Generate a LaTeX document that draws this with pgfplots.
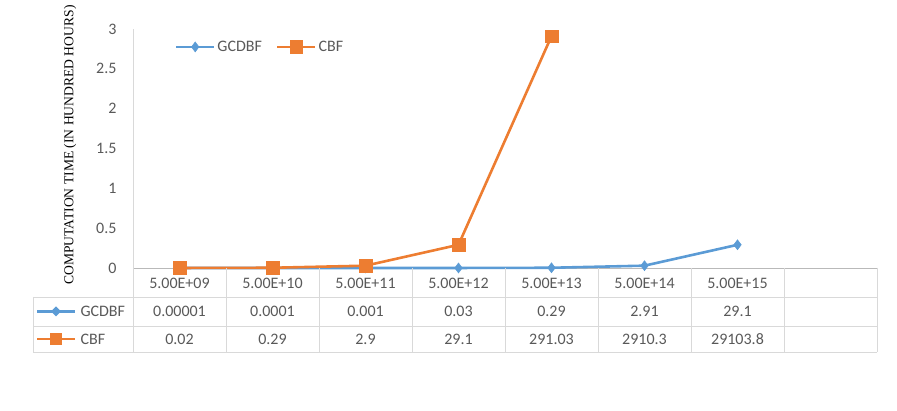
\documentclass[border=0pt]{standalone}
\usepackage{pgfplots}
\pgfplotsset{compat=1.18}
\usepackage{fontspec}
\setmainfont{Carlito}
\newfontfamily\serifff{Liberation Serif}
\definecolor{cblue}{HTML}{5B9BD5}
\definecolor{corange}{HTML}{ED7D31}
\definecolor{txt}{HTML}{595959}
\definecolor{gridc}{HTML}{D9D9D9}
\begin{document}
\begin{tikzpicture}[x=1pt,y=1pt]
\path[use as bounding box] (0,0) rectangle (897,411);
\begin{axis}[
  at={(133pt,143pt)}, anchor=south west,
  scale only axis, width=744pt, height=239pt,
  xmin=-0.5, xmax=7.5, ymin=0, ymax=3,
  clip=false,
  axis x line*=bottom, axis y line*=left,
  x axis line style={draw=gray!55, line width=0.8pt, -},
  y axis line style={draw=gridc, line width=0.8pt, -},
  xtick={0,...,6},
  xticklabels={5.00E+09,5.00E+10,5.00E+11,5.00E+12,5.00E+13,5.00E+14,5.00E+15},
  ytick={0,0.5,...,3},
  major tick length=0pt,
  /pgf/number format/assume math mode=true,
  tick label style={font=\fontsize{16}{18}\selectfont, text=txt},
  xticklabel style={anchor=center, yshift=-15pt},
  yticklabel style={anchor=east, xshift=-13pt},
  legend style={at={(0.052,0.925)}, anchor=west, draw=none, fill=none,
    font=\fontsize{16}{18}\selectfont, text=txt, legend columns=2,
    /tikz/every even column/.append style={column sep=12pt}},
  legend image code/.code={\draw[mark repeat=2,mark phase=2,#1] plot coordinates {(0pt,0pt) (19pt,0pt) (38pt,0pt)};},
]
\addplot[cblue, line width=2.6pt, mark=diamond*, mark size=5pt, mark options={solid, line width=0.5pt}]
 coordinates {(0,0.0000001) (1,0.000001) (2,0.00001) (3,0.0003) (4,0.0029) (5,0.0291) (6,0.291)};
\addlegendentry{GCDBF}
\addplot[corange, line width=2.6pt, mark=square*, mark size=6.3pt, mark options={solid, line width=0.5pt}]
 coordinates {(0,0.0002) (1,0.0029) (2,0.029) (3,0.291) (4,2.9103)};
\addlegendentry{CBF}
\end{axis}
% y label
\node[rotate=90, text=black, font=\serifff\fontsize{13.6}{15}\selectfont] at (70,266) {COMPUTATION TIME (IN HUNDRED HOURS)};
% table grid
\begin{scope}[draw=gridc, line width=0.8pt]
\draw (33,114) -- (877,114);
\draw (33,85) -- (877,85);
\draw (33,59) -- (877,59);
\draw (33,114) -- (33,59);
\foreach \xx in {133,226,319,412,505,598,691,784,877} {\draw (\xx,143) -- (\xx,59);}
\end{scope}
% legend keys in table
\draw[cblue, line width=2.6pt] (37,99.5) -- (75,99.5);
\path[fill=cblue] (56,104.5) -- (61,99.5) -- (56,94.5) -- (51,99.5) -- cycle;
\draw[corange, line width=2.6pt] (37,72) -- (75,72);
\path[fill=corange] (50,66) rectangle (62,78);
\begin{scope}[font=\fontsize{16}{18}\selectfont, text=txt]
\node[anchor=west] at (77,99.5) {GCDBF};
\node[anchor=west] at (77,72) {CBF};
\foreach \v [count=\i from 0] in {0.00001,0.0001,0.001,0.03,0.29,2.91,29.1} {\node at (179.5+93*\i,99.5) {\v};}
\foreach \v [count=\i from 0] in {0.02,0.29,2.9,29.1,291.03,2910.3,29103.8} {\node at (179.5+93*\i,72) {\v};}
\end{scope}
\end{tikzpicture}
\end{document}
